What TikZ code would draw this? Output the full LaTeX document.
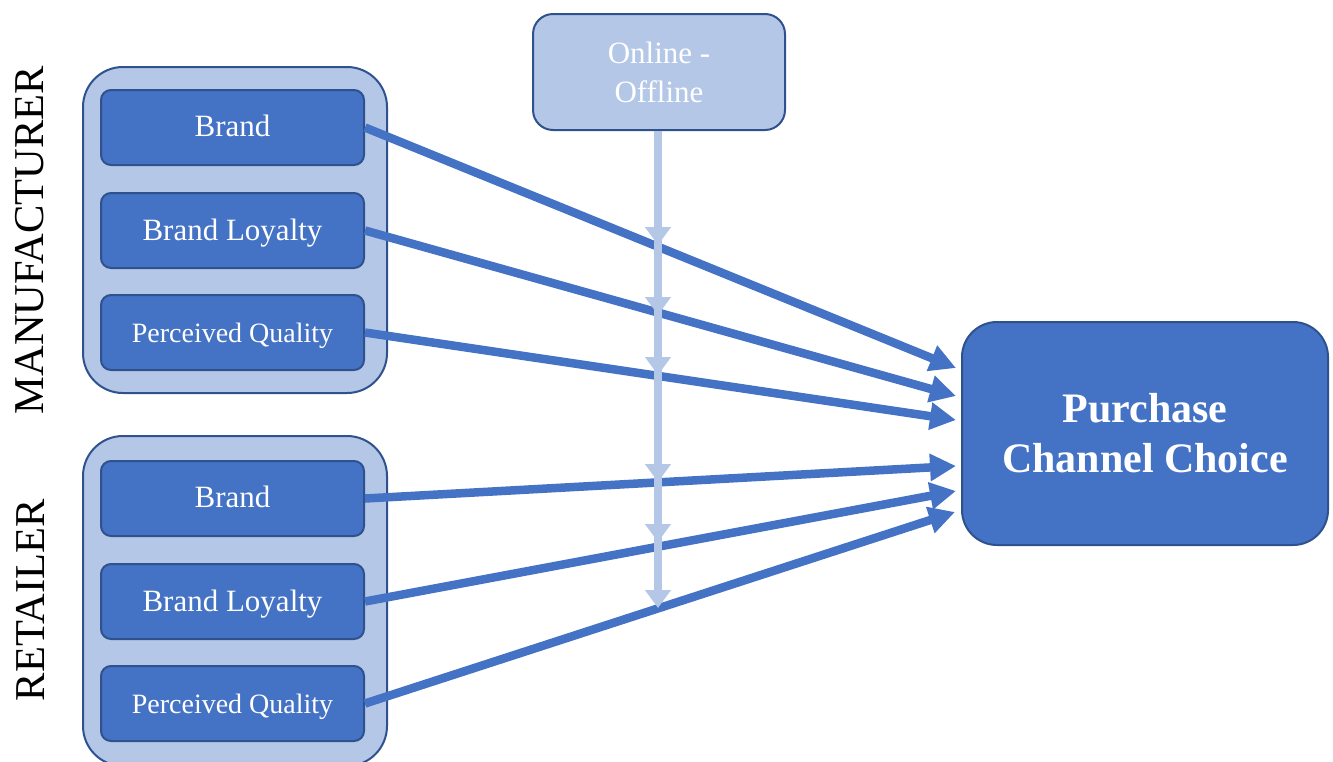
\documentclass[tikz,border=0pt]{standalone}
\usepackage{fontspec}
\setmainfont{Liberation Serif}
\usetikzlibrary{arrows.meta,decorations.markings}
\definecolor{dblue}{HTML}{4472C4}
\definecolor{bord}{HTML}{2F528F}
\definecolor{lblue}{HTML}{B4C7E7}
\tikzset{
  group/.style={draw=bord, line width=2pt, fill=lblue, rounded corners=40pt, minimum width=304pt, inner sep=0pt},
  item/.style={draw=bord, line width=2pt, fill=dblue, rounded corners=10pt, minimum width=263pt, minimum height=75pt, text=white, inner sep=0pt, text height=20pt, text depth=0pt},
  modbox/.style={draw=bord, line width=2pt, fill=lblue, rounded corners=20pt, minimum width=252pt, minimum height=116pt, text=white, align=center, inner sep=0pt, font=\fontsize{31}{39}\selectfont},
  tgtbox/.style={draw=bord, line width=2pt, fill=dblue, rounded corners=35pt, minimum width=366pt, minimum height=223pt, text=white, align=center, inner sep=0pt, font=\fontsize{42}{50}\selectfont\bfseries},
  side/.style={rotate=90, font=\fontsize{42.5}{42.5}\selectfont, inner sep=0pt},
  big/.style={font=\fontsize{31}{37}\selectfont},
  small/.style={font=\fontsize{28}{34}\selectfont},
  link/.style={draw=dblue, line width=8.5pt, -{Triangle[length=26pt,width=26pt]}},
  modline/.style={draw=lblue, line width=8pt, -{Triangle[length=18pt,width=25pt]},
    postaction={decorate}, decoration={markings,
      mark=at position 114pt with {\arrow{Triangle[length=18pt,width=25pt]}},
      mark=at position 184pt with {\arrow{Triangle[length=18pt,width=25pt]}},
      mark=at position 244pt with {\arrow{Triangle[length=18pt,width=25pt]}},
      mark=at position 351pt with {\arrow{Triangle[length=18pt,width=25pt]}},
      mark=at position 411pt with {\arrow{Triangle[length=18pt,width=25pt]}}}}
}
\begin{document}
\begin{tikzpicture}[x=1pt,y=-1pt]
\useasboundingbox (0,0) rectangle (1333,761);
\fill[white] (0,0) rectangle (1333,761);
% groups
\node[group, minimum height=326pt] (gm) at (235,230) {};
\node[group, minimum height=330pt] (gr) at (235,601) {};
% side labels
\node[side] (lm) at (30,240) {MANUFACTURER};
\node[side] (lr) at (30,600) {RETAILER};
% items
\node[item, big] (m1) at (232.5,127.5) {\raisebox{1pt}{Brand}};
\node[item, big] (m2) at (232.5,230.5) {Brand Loyalty};
\node[item, small] (m3) at (232.5,332.5) {Perceived Quality};
\node[item, big] (r1) at (232.5,498.5) {\raisebox{1pt}{Brand}};
\node[item, big] (r2) at (232.5,601.5) {Brand Loyalty};
\node[item, small] (r3) at (232.5,703.5) {Perceived Quality};
% moderator and target
\node[modbox] (mod) at (659,72) {Online -\\Offline};
\node[tgtbox] (tgt) at (1145,433.5) {Purchase\\Channel Choice};
% end points
\coordinate (t1) at (956,368);
\coordinate (t2) at (956,396);
\coordinate (t3) at (956,420);
\coordinate (t4) at (956,466);
\coordinate (t5) at (956,491);
\coordinate (t6) at (955,512);
\coordinate (vend) at (658,608);
% links
\draw[link] (m1.east) -- (t1);
\draw[link] (m2.east) -- (t2);
\draw[link] (m3.east) -- (t3);
\draw[link] (r1.east) -- (t4);
\draw[link] (r2.east) -- (t5);
\draw[link] (r3.east) -- (t6);
% moderator line
\draw[modline] (mod.south -| vend) -- (vend);
\end{tikzpicture}
\end{document}
